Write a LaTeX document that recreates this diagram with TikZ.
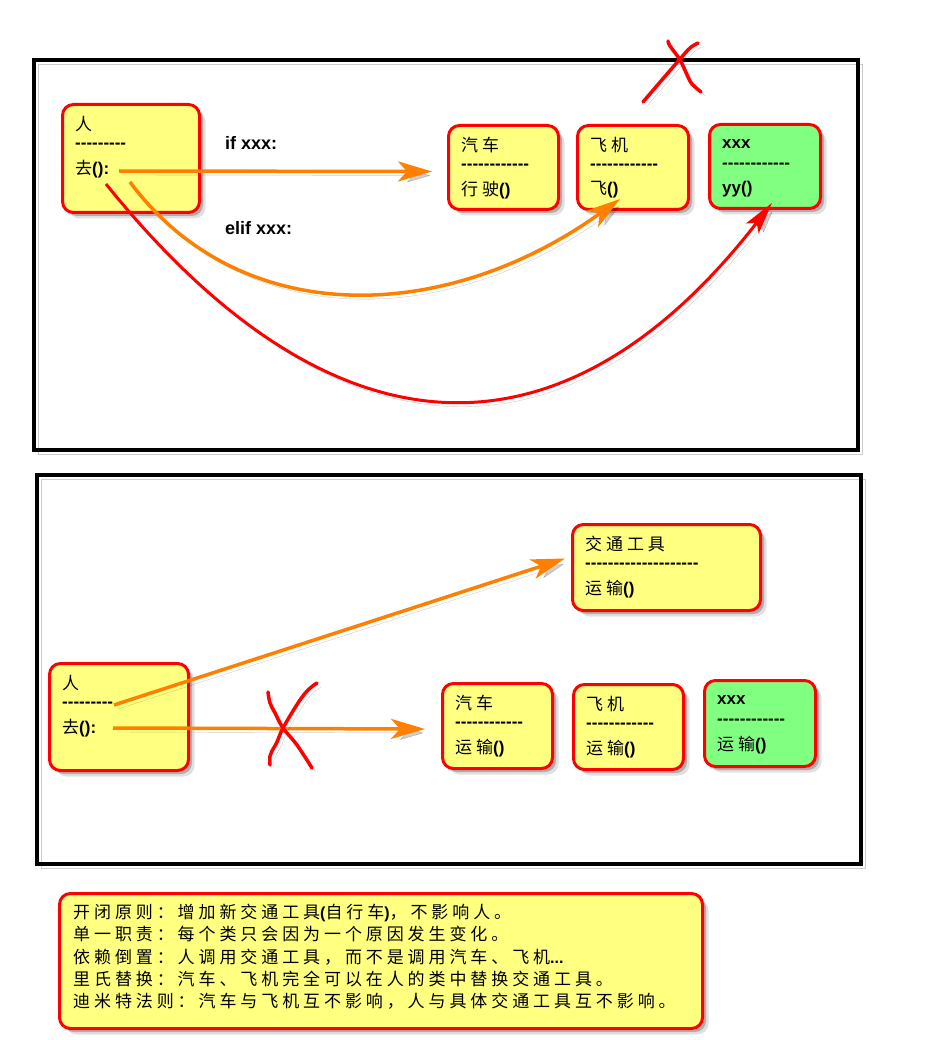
\documentclass[tikz,border=0pt]{standalone}
\usepackage{fontspec}
\setmainfont{Liberation Sans}
\newfontfamily\cjkfont{Noto Sans CJK SC}[LetterSpace=23.0]
\usetikzlibrary{arrows.meta,shadows,calc}

\definecolor{noteyellow}{RGB}{255,255,128}
\definecolor{notegreen}{RGB}{128,255,128}
\definecolor{flowred}{RGB}{255,0,0}
\definecolor{floworange}{RGB}{255,128,0}

% Chinese text, regular weight, spaced out
\newcommand\zh[1]{{\cjkfont\mdseries\fontsize{17}{20}\selectfont #1}}
% a row of separate bold hyphens
\newcommand\dashrow[1]{\foreach\k in {1,...,#1}{-\kern0pt}}

% class box: name, x, y, width, height, fill, three text lines
\newcommand\classbox[9]{%
  \node[boxshape, fill=#6, minimum width=#4pt, minimum height=#5pt, anchor=north west] (#1) at (#2,#3) {};
  \node[boxtext] (#1-a) at ($(#1.north west)+(14,21)$) {#7};
  \node[boxtext] (#1-b) at ($(#1.north west)+(14,43)$) {#8};
  \node[boxtext] (#1-c) at ($(#1.north west)+(14,66)$) {#9};
}

\begin{document}
\begin{tikzpicture}[x=1pt,y=-1pt,
  boxshape/.style={draw=flowred, line width=3pt, rounded corners=11pt, inner sep=0pt,
    drop shadow={shadow xshift=6pt, shadow yshift=-6pt, opacity=0.12, fill=black},
    drop shadow={shadow xshift=3.5pt, shadow yshift=-3.5pt, opacity=0.22, fill=black}},
  boxtext/.style={anchor=west, inner sep=0pt, font=\fontsize{17}{20}\selectfont\bfseries},
  labeltext/.style={anchor=west, inner sep=0pt, font=\fontsize{18}{20}\selectfont\bfseries},
  softline/.style={preaction={draw=black, opacity=0.2, transform canvas={shift={(4pt,-4pt)}}}},
  framebox/.style={draw=black, line width=4.5pt, softline},
  orangearrow/.style={draw=floworange, line width=3.5pt, softline,
    -{Stealth[length=34pt, width=20pt, inset=9pt]}},
  redarrow/.style={draw=flowred, line width=3pt, softline,
    -{Stealth[length=32pt, width=16pt, inset=7pt]}},
  crossmark/.style={draw=flowred, line width=3.5pt, line cap=round, line join=round, softline}
]
\useasboundingbox (0,0) rectangle (940,1040);
\fill[white] (0,0) rectangle (940,1040);

% the two frames
\draw[framebox] (34,60) rectangle (858,450);
\draw[framebox] (37,475) rectangle (861,864);

% ---------- upper frame: person decides by if/elif ----------
\classbox{p1}{61}{103}{137}{108}{noteyellow}{\zh{人}}{\dashrow{9}}{\zh{去}():}
\classbox{car1}{447}{124}{110}{84}{noteyellow}{\zh{汽车}}{\dashrow{12}}{\zh{行驶}()}
\classbox{plane1}{576}{124}{111}{84}{noteyellow}{\zh{飞机}}{\dashrow{12}}{\zh{飞}()}
\classbox{xxx1}{708}{123}{111}{84}{notegreen}{xxx}{\dashrow{12}}{yy()}

\node[labeltext] (if) at (225,143) {if xxx:};
\node[labeltext] (elif) at (225,228) {elif xxx:};

\coordinate (ifs) at ($(p1.north west)+(58,68)$);
\coordinate (ife) at ($(car1.west)+(-15,4)$);
\coordinate (elifs) at ($(p1.north west)+(69,79)$);
\coordinate (elife) at ($(plane1.south west)+(44,-12)$);
\coordinate (elses) at ($(p1.north west)+(45,81)$);
\coordinate (elsee) at ($(xxx1.south west)+(64,-7)$);

\draw[orangearrow] (ifs) -- (ife);
\draw[orangearrow] (elifs) .. controls (240,330) and (445,325) .. (elife);
\draw[redarrow] (elses) .. controls (335,468) and (565,470) .. (elsee);

% crossed out on the frame edge
\draw[crossmark] plot[smooth, tension=0.6] coordinates {(643,102) (661,81) (680,59) (690,48) (698,43)};
\draw[crossmark] plot[smooth, tension=0.6] coordinates {(668,41) (670,46) (680,60) (688,77) (692,84) (701,92)};

% ---------- lower frame: person depends on the abstraction ----------
\classbox{vt}{571}{523}{188}{86}{noteyellow}{\zh{交通工具}}{\dashrow{20}}{\zh{运输}()}
\classbox{p2}{48}{662}{139}{107}{noteyellow}{\zh{人}}{\dashrow{9}}{\zh{去}():}
\classbox{car2}{441}{682}{110}{85}{noteyellow}{\zh{汽车}}{\dashrow{12}}{\zh{运输}()}
\classbox{plane2}{572}{683}{110}{85}{noteyellow}{\zh{飞机}}{\dashrow{12}}{\zh{运输}()}
\classbox{xxx2}{703}{679}{111}{86}{notegreen}{xxx}{\dashrow{12}}{\zh{运输}()}

\coordinate (vts) at ($(p2.north west)+(66,43)$);
\coordinate (vte) at ($(vt.west)+(-6,-9)$);
\coordinate (cars) at ($(p2.north west)+(65,66)$);
\coordinate (care) at ($(car2.west)+(-16,3)$);

\draw[orangearrow] (vts) -- (vte);
\draw[orangearrow] (cars) -- (care);

\draw[crossmark] plot[smooth, tension=0.6] coordinates {(317,683) (308,690) (298,703) (283,728) (277,742) (272,751) (270,756) (270,765)};
\draw[crossmark] plot[smooth, tension=0.6] coordinates {(268,692) (270,703) (275,713) (283,728) (297,745) (312,768)};

% ---------- design principles ----------
\node[boxshape, fill=noteyellow, minimum width=643pt, minimum height=135pt, anchor=north west] (rules) at (58,892) {};
\node[anchor=north west, align=left, inner sep=0pt, font=\fontsize{16}{22.3}\selectfont\bfseries] (rules-text) at (73,904) {%
\zh{开闭原则：增加新交通工具}(\zh{自行车})\zh{，不影响人。}\\
\zh{单一职责：每个类只会因为一个原因发生变化。}\\
\zh{依赖倒置：人调用交通工具，而不是调用汽车、飞机}...\\
\zh{里氏替换：汽车、飞机完全可以在人的类中替换交通工具。}\\
\zh{迪米特法则：汽车与飞机互不影响，人与具体交通工具互不影响。}};
\end{tikzpicture}
\end{document}
